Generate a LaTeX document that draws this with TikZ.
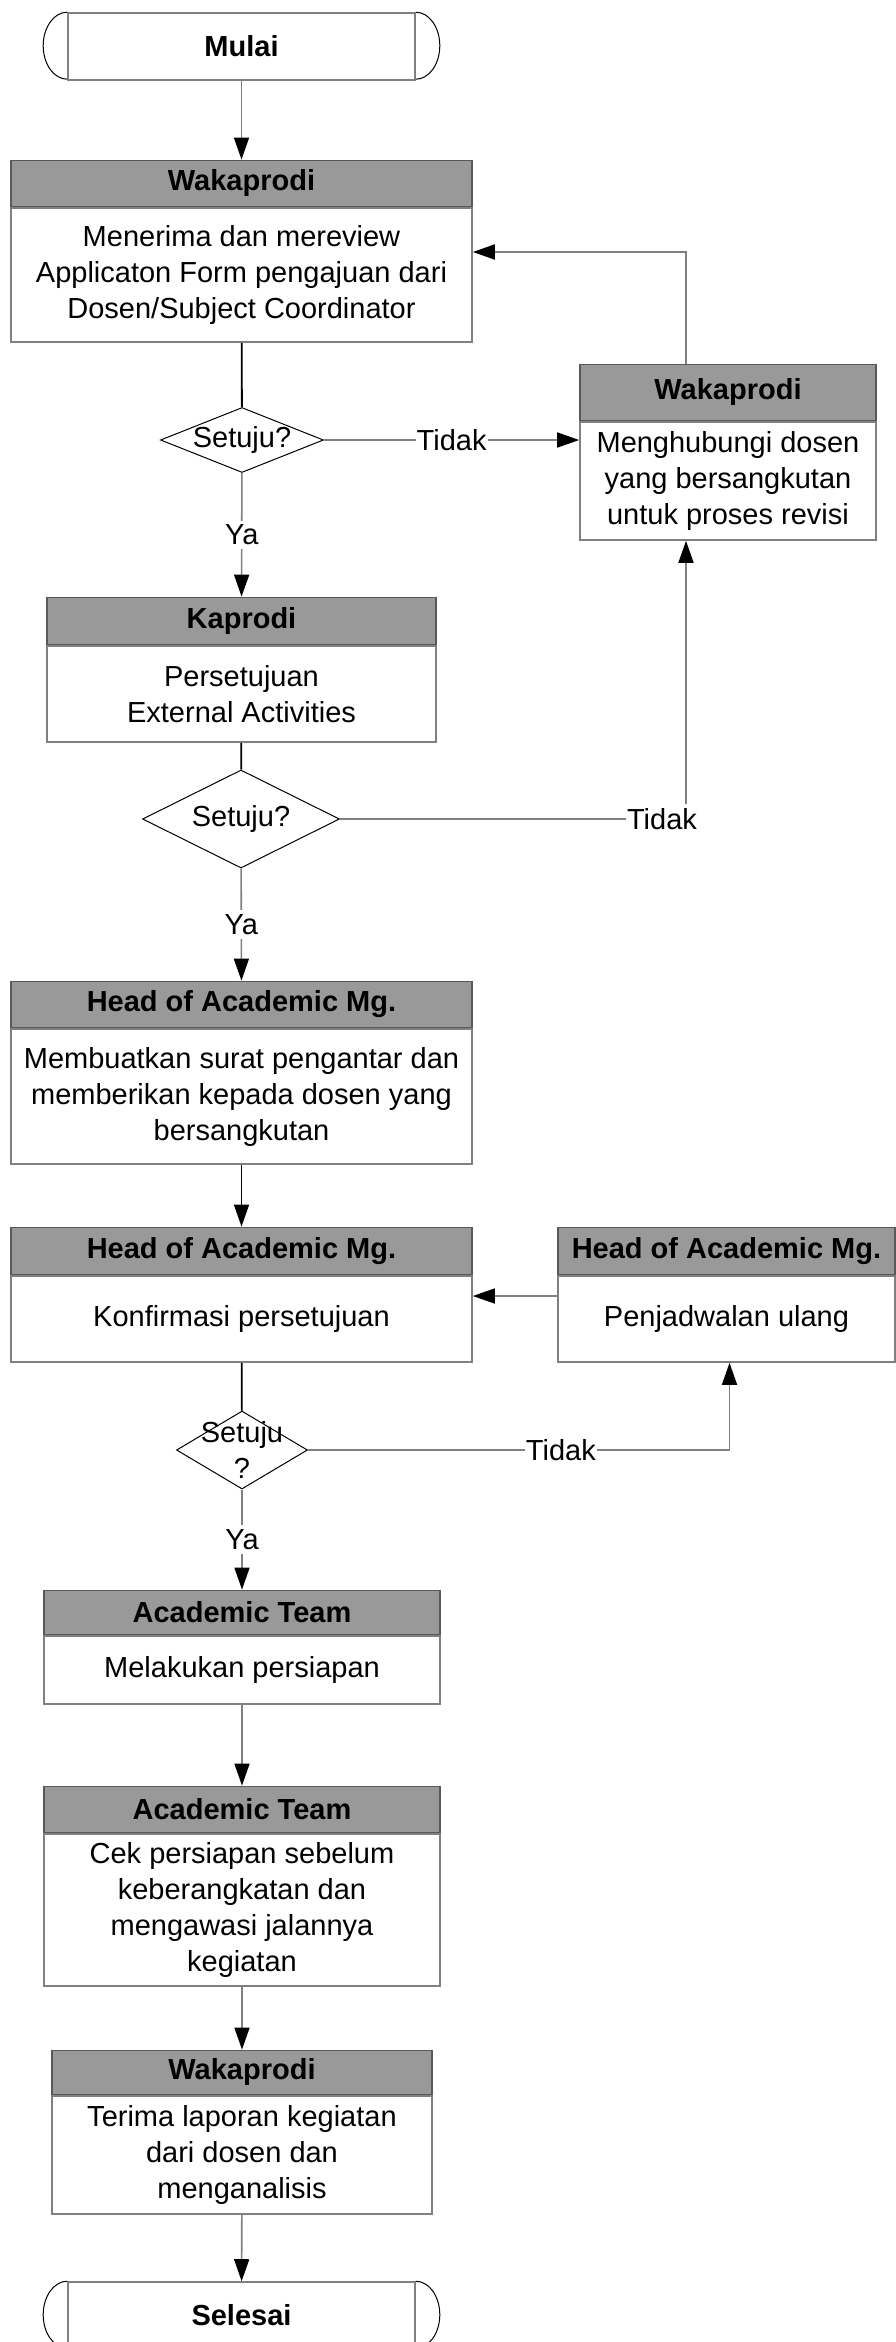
\documentclass[tikz,border=0pt]{standalone}
\usepackage{fontspec}
\setmainfont{Liberation Sans}
\usetikzlibrary{arrows.meta,positioning,shapes.geometric}

\tikzset{
  body/.style={draw=black!50, line width=1.6pt, fill=white, inner sep=0pt, align=center},
  head/.style={draw=black!65, line width=1.6pt, fill=black!40, inner sep=0pt, font=\fontsize{29}{36}\selectfont\bfseries},
  terminal/.style={draw=black!50, line width=1.6pt, minimum width=347, minimum height=67, inner sep=0pt, font=\fontsize{29}{36}\selectfont\bfseries},
  endcurve/.style={draw=black, line width=1pt},
  decision/.style={diamond, draw=black, line width=1pt, inner sep=0pt},
  line/.style={draw=black!50, line width=1.6pt},
  link/.style={draw=black, line width=1.8pt},
  flow/.style={line, -{Triangle[length=22pt, width=15pt, color=black]}},
  answer/.style={fill=white, inner xsep=1pt, inner ysep=4pt},
}

\begin{document}
\begin{tikzpicture}[x=1pt, y=-1pt, font=\fontsize{29}{36}\selectfont]
    \useasboundingbox (0,0) rectangle (896,2342);

    \node[terminal] (start) at (241.5,46.5) {Mulai};

    \node[body, minimum width=461, minimum height=134] (w1) at (241.5,275) {Menerima dan mereview\\Applicaton Form pengajuan dari\\Dosen/Subject Coordinator};
    \node[head, minimum width=461, minimum height=46, above=0pt of w1] (w1h) {Wakaprodi};

    \node[decision, minimum width=163, minimum height=65, label=center:Setuju?] (d1) at (242,440) {};

    \node[body, minimum width=296, minimum height=118] (r1) at (728,481) {Menghubungi dosen\\yang bersangkutan\\untuk proses revisi};
    \node[head, minimum width=296, minimum height=56, above=0pt of r1] (r1h) {Wakaprodi};

    \node[body, minimum width=389, minimum height=96] (k) at (241.5,694) {Persetujuan\\External Activities};
    \node[head, minimum width=389, minimum height=47, above=0pt of k] (kh) {Kaprodi};

    \node[decision, minimum width=197, minimum height=98, label=center:Setuju?] (d2) at (241,819) {};

    \node[body, minimum width=461, minimum height=135] (h1) at (241.5,1096.5) {Membuatkan surat pengantar dan\\memberikan kepada dosen yang\\bersangkutan};
    \node[head, minimum width=461, minimum height=46, above=0pt of h1] (h1h) {Head of Academic Mg.};

    \node[body, minimum width=461, minimum height=86] (h2) at (241.5,1319) {Konfirmasi persetujuan};
    \node[head, minimum width=461, minimum height=47, above=0pt of h2] (h2h) {Head of Academic Mg.};

    \node[body, minimum width=337, minimum height=86] (h3) at (726.5,1319) {Penjadwalan ulang};
    \node[head, minimum width=337, minimum height=47, above=0pt of h3] (h3h) {Head of Academic Mg.};

    \node[decision, minimum width=131, minimum height=78, label={[align=center]center:Setuju\\?}] (d3) at (242,1450) {};

    \node[body, minimum width=396, minimum height=68] (a1) at (242,1670) {Melakukan persiapan};
    \node[head, minimum width=396, minimum height=44, above=0pt of a1] (a1h) {Academic Team};

    \node[body, minimum width=396, minimum height=152] (a2) at (242,1910) {Cek persiapan sebelum\\keberangkatan dan\\mengawasi jalannya\\kegiatan};
    \node[head, minimum width=396, minimum height=46, above=0pt of a2] (a2h) {Academic Team};

    \node[body, minimum width=380, minimum height=118] (w3) at (242,2155) {Terima laporan kegiatan\\dari dosen dan\\menganalisis};
    \node[head, minimum width=380, minimum height=44, above=0pt of w3] (w3h) {Wakaprodi};

    \node[terminal] (stop) at (241.5,2315.5) {Selesai};

    % rounded ends of the terminators
    \foreach \t in {start,stop} {
        \draw[endcurve] (\t.north west) arc[start angle=90, end angle=270, x radius=24pt, y radius=33.5pt];
        \draw[endcurve] (\t.north east) arc[start angle=90, end angle=-90, x radius=24pt, y radius=33.5pt];
    }

    \draw[flow] (start) -- (w1h);
    \draw[link] (w1) -- (d1);
    \draw[flow] (d1.east) -- node[answer] {Tidak} (d1.east -| r1.west);
    \draw[flow] ([xshift=-42]r1h.north) |- ([yshift=23]w1.east);
    \draw[flow] (d1) -- node[answer] {Ya} (kh);
    \draw[link] (k) -- (d2);
    \draw[flow] (d2.east) -| node[answer, pos=0.5, xshift=-24] {Tidak} ([xshift=-42]r1.south);
    \draw[flow] (d2) -- node[answer] {Ya} (h1h);
    \draw[flow, draw=black] (h1) -- (h2h);
    \draw[flow] ([yshift=23]h3.west) -- ([yshift=23]h2.east);
    \draw[link] (h2) -- (d3);
    \draw[flow] (d3.east) -| node[answer, pos=0.3] {Tidak} ([xshift=3]h3.south);
    \draw[flow] (d3) -- node[answer] {Ya} (a1h);
    \draw[flow] (a1) -- (a2h);
    \draw[flow] (a2) -- (w3h);
    \draw[flow] (w3) -- (stop);
\end{tikzpicture}
\end{document}
